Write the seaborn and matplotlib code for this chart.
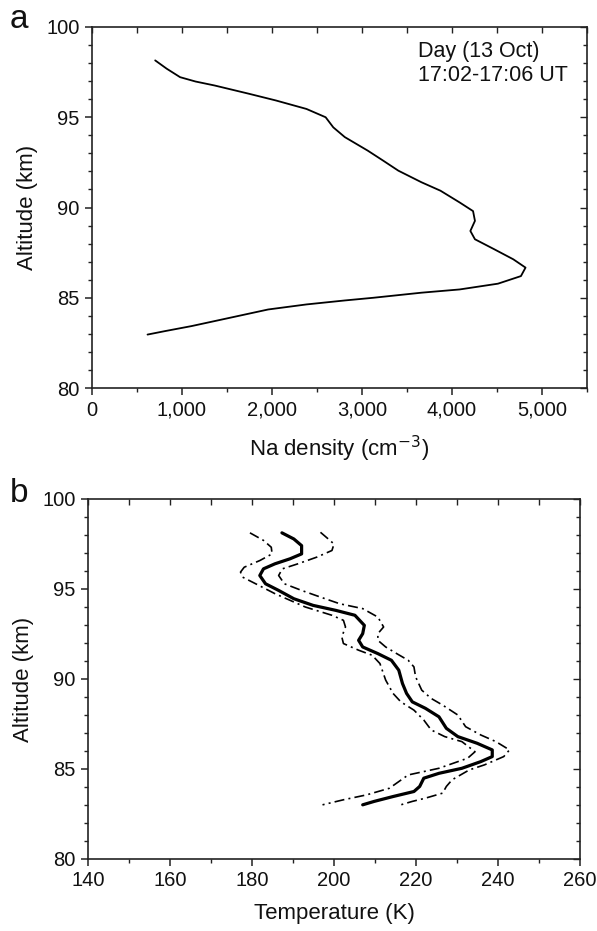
import matplotlib
matplotlib.use("Agg")
import matplotlib.pyplot as plt
import seaborn as sns
import pandas as pd
from matplotlib.ticker import MultipleLocator, FuncFormatter

# ---- Panel a: Na density profile ----
na_density = [702, 830, 979, 1150, 1362, 1745, 2043, 2383, 2596, 2681, 2809, 3064, 3234, 3404,
              3660, 3872, 4085, 4234, 4255, 4204, 4255, 4468, 4681, 4817, 4766, 4511,
              4085, 3660, 3128, 2809, 2383, 1957, 1532, 1106, 809, 617]
na_alt = [98.15, 97.69, 97.22, 96.98, 96.76, 96.3, 95.93, 95.46, 95.0, 94.44, 93.9, 93.15, 92.6, 92.04,
          91.4, 90.93, 90.28, 89.8, 89.26, 88.7, 88.24, 87.69, 87.13, 86.67, 86.2, 85.78,
          85.46, 85.28, 85.0, 84.85, 84.63, 84.35, 83.89, 83.43, 83.15, 82.96]

# ---- Panel b: temperature profile with error bounds ----
temp = [187.3, 190.2, 192.1, 192.1, 189.3, 185.6, 182.8, 181.9, 183.3, 186.5, 190.2,
        194.9, 200.5, 205.1, 207.4, 207.0, 206.0, 207.0, 210.7, 214.0, 215.8, 216.7,
        217.7, 219.1, 222.3, 225.6, 227.4, 230.2, 234.9, 238.6, 238.6, 235.8, 231.2,
        225.6, 221.9, 220.9, 219.5, 214.4, 209.8, 207.0]
temp_alt = [98.12, 97.78, 97.41, 96.95, 96.68, 96.4, 96.12, 95.75, 95.29, 94.92, 94.46,
            94.09, 93.81, 93.54, 92.98, 92.52, 92.15, 91.78, 91.41, 91.04, 90.49, 89.75,
            89.2, 88.73, 88.37, 87.9, 87.26, 86.8, 86.43, 86.06, 85.69, 85.41, 85.04,
            84.76, 84.49, 84.03, 83.75, 83.47, 83.2, 83.01]

temp_low = [179.5, 182.8, 184.7, 184.9, 181.9, 178.1, 177.2, 177.7, 180.9, 185.6, 189.3,
            193.0, 199.5, 202.3, 202.8, 201.9, 202.3, 206.0, 209.3, 211.2, 212.6, 214.4,
            216.3, 219.5, 221.9, 223.7, 227.0, 231.2, 234.4, 232.6, 225.6, 218.1, 215.8,
            213.5, 207.9, 202.3, 197.2]
low_alt = [98.12, 97.7, 97.32, 96.95, 96.58, 96.21, 95.94, 95.66, 95.29, 94.74, 94.37,
           94.0, 93.54, 93.26, 92.89, 92.34, 91.97, 91.6, 91.32, 90.86, 89.94, 89.2,
           88.73, 88.27, 87.72, 87.17, 86.8, 86.52, 85.96, 85.6, 85.04, 84.67, 84.3,
           83.93, 83.56, 83.29, 83.01]

temp_high = [196.7, 198.6, 200.0, 199.5, 195.8, 191.2, 187.4, 186.5, 187.9, 192.1, 196.7,
             201.4, 207.0, 210.7, 212.1, 210.7, 210.7, 212.6, 215.3, 218.1, 219.5, 219.9,
             221.4, 223.7, 226.5, 230.2, 232.1, 235.8, 239.5, 242.8, 241.4, 236.7, 233.0,
             228.8, 227.4, 226.5, 222.3, 219.1, 216.3]
high_alt = [98.15, 97.78, 97.5, 97.14, 96.77, 96.4, 96.12, 95.75, 95.29, 94.92, 94.55,
            94.18, 93.91, 93.44, 92.89, 92.52, 92.15, 91.78, 91.41, 91.04, 90.67, 90.12,
            89.38, 88.92, 88.55, 88.0, 87.35, 86.89, 86.52, 86.06, 85.69, 85.23, 84.95,
            84.4, 84.03, 83.66, 83.38, 83.2, 83.01]

sns.set_theme(style="white")
plt.rcParams['font.family'] = ['Liberation Sans', 'DejaVu Sans']
plt.rcParams['lines.solid_joinstyle'] = 'round'
plt.rcParams['lines.dash_joinstyle'] = 'round'

fig = plt.figure(figsize=(5.97, 9.31), dpi=100)
W, H = 597, 931
ax1 = fig.add_axes([92 / W, 1 - 388 / H, (587 - 92) / W, (388 - 27) / H])
ax2 = fig.add_axes([88 / W, 1 - 859 / H, (580 - 88) / W, (859 - 499) / H])

df_na = pd.DataFrame({"x": na_density, "y": na_alt})
sns.lineplot(data=df_na, x="x", y="y", ax=ax1, sort=False, estimator=None,
             color="black", linewidth=1.3)

df_t = pd.DataFrame({"x": temp, "y": temp_alt})
df_l = pd.DataFrame({"x": temp_low, "y": low_alt})
df_h = pd.DataFrame({"x": temp_high, "y": high_alt})
sns.lineplot(data=df_t, x="x", y="y", ax=ax2, sort=False, estimator=None,
             color="black", linewidth=2.3)
for d in (df_l, df_h):
    sns.lineplot(data=d, x="x", y="y", ax=ax2, sort=False, estimator=None,
                 color="black", linewidth=1.2, linestyle=(0, (6, 2.5, 1.2, 2.5)))


def style_axes(ax, xlim, xmaj, xmin):
    ax.set_xlim(*xlim)
    ax.set_ylim(80, 100)
    ax.xaxis.set_major_locator(MultipleLocator(xmaj))
    ax.xaxis.set_minor_locator(MultipleLocator(xmin))
    ax.yaxis.set_major_locator(MultipleLocator(5))
    ax.yaxis.set_minor_locator(MultipleLocator(1))
    for s in ax.spines.values():
        s.set_visible(True)
        s.set_color("#222222")
        s.set_linewidth(1.2)
    ax.tick_params(which="both", direction="out", bottom=True, left=True,
                   top=False, right=False, colors="#222222", labelsize=14.5,
                   labelcolor="#111111")
    ax.tick_params(which="major", length=5, width=1.1, pad=4)
    ax.tick_params(which="minor", length=3, width=1.0)
    # inward ticks on top and right (secondary axes)
    sec_x = ax.secondary_xaxis("top")
    sec_x.xaxis.set_major_locator(MultipleLocator(xmin))
    sec_x.tick_params(direction="in", length=4, width=1.0, labeltop=False,
                      colors="#222222")
    sec_x.spines["top"].set_visible(False)
    sec_y = ax.secondary_yaxis("right")
    sec_y.yaxis.set_major_locator(MultipleLocator(5))
    sec_y.yaxis.set_minor_locator(MultipleLocator(1))
    sec_y.tick_params(which="major", direction="in", length=5, width=1.0,
                      labelright=False, colors="#222222")
    sec_y.tick_params(which="minor", direction="in", length=3, width=1.0,
                      colors="#222222")
    sec_y.spines["right"].set_visible(False)
    ax.set_ylabel("Altitude (km)", fontsize=16, labelpad=6, color="#111111")


style_axes(ax1, (0, 5500), 1000, 500)
ax1.xaxis.set_major_formatter(FuncFormatter(lambda v, p: f"{int(v):,}"))
ax1.set_xlabel("Na density (cm$^{-3}$)", fontsize=16, labelpad=10, color="#111111")
ax1.text(0.962, 0.962, "Day (13 Oct)\n17:02-17:06 UT", transform=ax1.transAxes,
         ha="right", va="top", fontsize=15.5, linespacing=1.2, color="#111111",
         multialignment="left")

style_axes(ax2, (140, 260), 20, 10)
ax2.set_xlabel("Temperature (K)", fontsize=16, labelpad=9, color="#111111")

fig.text(10 / W, 1 - 4 / H, "a", fontsize=24, ha="left", va="top", color="#111111")
fig.text(10 / W, 1 - 478 / H, "b", fontsize=24, ha="left", va="top", color="#111111")

fig.savefig("out.png", dpi=100, facecolor="white")
